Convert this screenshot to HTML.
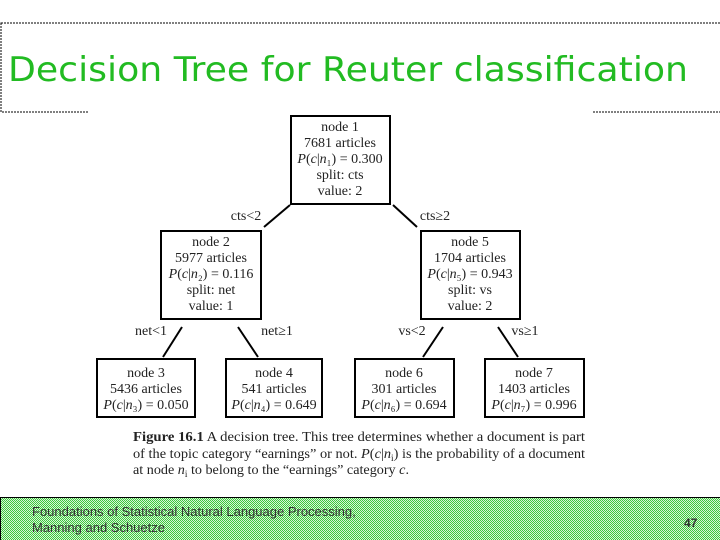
<!DOCTYPE html>
<html><head><meta charset="utf-8"><style>
html,body{margin:0;padding:0;background:#fff;width:720px;height:540px;overflow:hidden}
</style></head><body>
<svg width="720" height="540" viewBox="0 0 720 540" xmlns="http://www.w3.org/2000/svg">
<defs>
<pattern id="hatch" width="2" height="2" patternUnits="userSpaceOnUse">
<rect width="2" height="2" fill="#d8f4d8"/>
<rect width="1" height="1" fill="#3cc83c"/>
<rect x="1" y="1" width="1" height="1" fill="#3cc83c"/>
</pattern>
</defs>
<rect x="1" y="23" width="740" height="89" fill="none" stroke="#000" stroke-width="1" stroke-dasharray="2,1"/>
<text x="8" y="81" font-family="DejaVu Sans, sans-serif" font-size="34" fill="#22bb22" textLength="680" lengthAdjust="spacingAndGlyphs">Decision Tree for Reuter classification</text>
<rect x="88" y="106" width="504" height="380" fill="#fff"/>
<g fill="#fff" stroke="#000" stroke-width="2">
<rect x="291" y="116" width="99" height="88"/>
<rect x="161" y="231" width="100" height="88"/>
<rect x="421" y="231" width="99" height="88"/>
<rect x="97" y="359" width="98" height="58"/>
<rect x="226" y="359" width="96" height="58"/>
<rect x="355" y="359" width="99" height="58"/>
<rect x="485" y="359" width="99" height="58"/>
</g>
<g stroke="#000" stroke-width="2">
<line x1="290" y1="205" x2="264" y2="227"/>
<line x1="393" y1="205" x2="417" y2="227"/>
<line x1="182" y1="327" x2="163" y2="357"/>
<line x1="238" y1="327" x2="258" y2="357"/>
<line x1="443" y1="327" x2="423" y2="357"/>
<line x1="498" y1="327" x2="518" y2="357"/>
</g>
<g font-family="Liberation Serif, serif" font-size="14" fill="#222" text-anchor="middle">
<text x="340" y="131">node 1</text><text x="340" y="147">7681 articles</text><text x="340" y="163"><tspan font-style="italic">P</tspan>(<tspan font-style="italic">c</tspan>|<tspan font-style="italic">n</tspan>₁) = 0.300</text><text x="340" y="179">split: cts</text><text x="340" y="195">value: 2</text>
<text x="211" y="246">node 2</text><text x="211" y="262">5977 articles</text><text x="211" y="278"><tspan font-style="italic">P</tspan>(<tspan font-style="italic">c</tspan>|<tspan font-style="italic">n</tspan>₂) = 0.116</text><text x="211" y="294">split: net</text><text x="211" y="310">value: 1</text>
<text x="470" y="246">node 5</text><text x="470" y="262">1704 articles</text><text x="470" y="278"><tspan font-style="italic">P</tspan>(<tspan font-style="italic">c</tspan>|<tspan font-style="italic">n</tspan>₅) = 0.943</text><text x="470" y="294">split: vs</text><text x="470" y="310">value: 2</text>
<text x="146" y="377">node 3</text><text x="146" y="393">5436 articles</text><text x="146" y="409"><tspan font-style="italic">P</tspan>(<tspan font-style="italic">c</tspan>|<tspan font-style="italic">n</tspan>₃) = 0.050</text>
<text x="274" y="377">node 4</text><text x="274" y="393">541 articles</text><text x="274" y="409"><tspan font-style="italic">P</tspan>(<tspan font-style="italic">c</tspan>|<tspan font-style="italic">n</tspan>₄) = 0.649</text>
<text x="404" y="377">node 6</text><text x="404" y="393">301 articles</text><text x="404" y="409"><tspan font-style="italic">P</tspan>(<tspan font-style="italic">c</tspan>|<tspan font-style="italic">n</tspan>₆) = 0.694</text>
<text x="534" y="377">node 7</text><text x="534" y="393">1403 articles</text><text x="534" y="409"><tspan font-style="italic">P</tspan>(<tspan font-style="italic">c</tspan>|<tspan font-style="italic">n</tspan>₇) = 0.996</text>
<text x="246" y="220">cts&lt;2</text><text x="435" y="220">cts≥2</text>
<text x="151" y="335">net&lt;1</text><text x="277" y="335">net≥1</text>
<text x="412" y="335">vs&lt;2</text><text x="525" y="335">vs≥1</text>
</g>
<g font-family="Liberation Serif, serif" font-size="14" fill="#222">
<text x="133" y="441" textLength="452" lengthAdjust="spacingAndGlyphs"><tspan font-weight="bold">Figure 16.1</tspan>   A decision tree. This tree determines whether a document is part</text>
<text x="133" y="458" textLength="452" lengthAdjust="spacingAndGlyphs">of the topic category “earnings” or not. <tspan font-style="italic">P</tspan>(<tspan font-style="italic">c</tspan>|<tspan font-style="italic">n</tspan><tspan font-size="9" dy="3">i</tspan><tspan dy="-3">) is the probability of a document</tspan></text>
<text x="133" y="474" textLength="276" lengthAdjust="spacingAndGlyphs">at node <tspan font-style="italic">n</tspan><tspan font-size="9" dy="3">i</tspan><tspan dy="-3"> to belong to the “earnings” category </tspan><tspan font-style="italic">c</tspan>.</text>
</g>
<rect x="0.5" y="497.5" width="720" height="43" fill="url(#hatch)" stroke="#000" stroke-width="1"/>
<g font-family="Liberation Sans, sans-serif" font-size="13" fill="#333">
<text x="32" y="516">Foundations of Statistical Natural Language Processing,</text>
<text x="32" y="532">Manning and Schuetze</text>
<text x="684" y="527" font-weight="bold" font-size="12">47</text>
</g>
</svg>
</body></html>
